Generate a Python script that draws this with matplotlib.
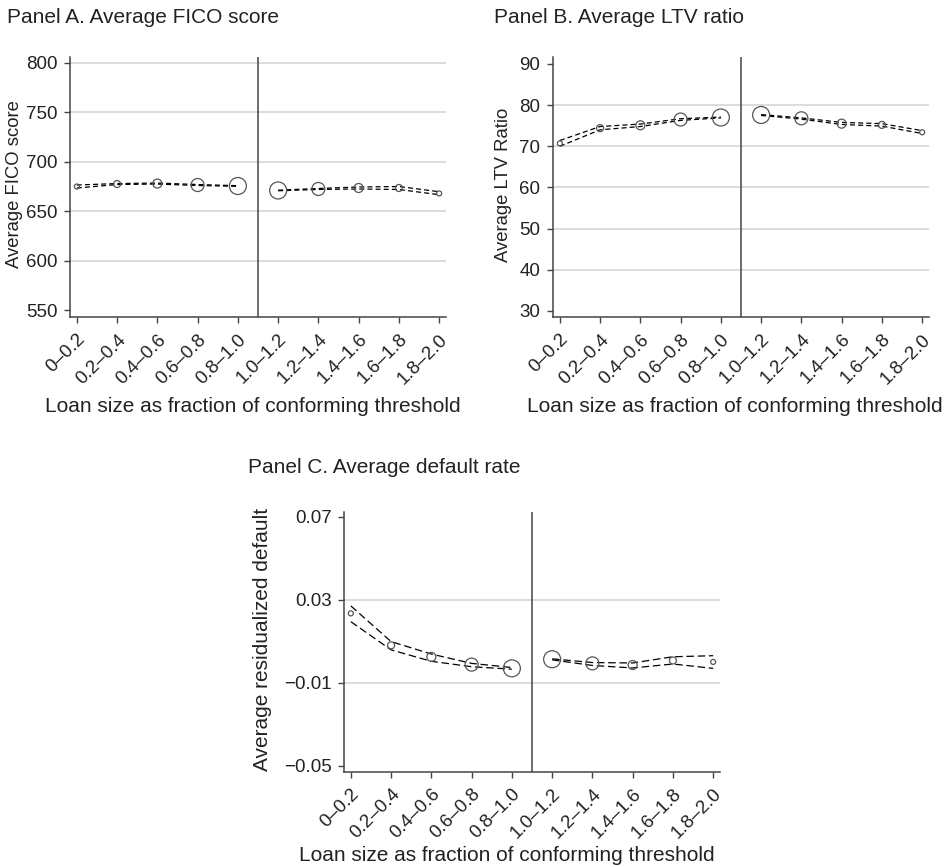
import matplotlib.pyplot as plt
import numpy as np
from matplotlib.transforms import ScaledTranslation

plt.rcParams['font.family'] = ['Liberation Sans', 'DejaVu Sans']

bins = ['0–0.2', '0.2–0.4', '0.4–0.6', '0.6–0.8', '0.8–1.0',
        '1.0–1.2', '1.2–1.4', '1.4–1.6', '1.6–1.8', '1.8–2.0']

# relative bin weight (drawn as circle diameter)
bin_weight = [5, 7, 9, 13, 17, 17, 13, 9, 7, 5]

fico_mean = [675, 677.5, 678, 676.5, 675.5, 671, 672.5, 673.5, 673.5, 668]
fico_hi = [676.5, 678, 678.5, 677, 675.8, 671.3, 673, 674.5, 675, 669.7]
fico_lo = [673.5, 677, 677.5, 676, 675.2, 670.7, 672, 672.5, 672, 666.7]

ltv_mean = [70.7, 74.4, 75.1, 76.5, 77.0, 77.6, 76.8, 75.5, 75.2, 73.4]
ltv_hi = [71.4, 74.8, 75.4, 76.7, 77.1, 77.7, 76.9, 75.8, 75.5, 73.8]
ltv_lo = [70.0, 74.0, 74.8, 76.3, 76.9, 77.5, 76.6, 75.3, 74.9, 73.1]

dflt_mean = [0.0234, 0.0080, 0.0024, -0.0013, -0.0031, 0.0013, -0.0007, -0.0015, 0.0007, 0.0000]
dflt_hi = [0.0270, 0.0098, 0.0038, -0.0007, -0.0027, 0.0015, -0.0003, -0.0005, 0.0025, 0.0030]
dflt_lo = [0.0194, 0.0058, 0.0003, -0.0023, -0.0035, 0.0010, -0.0017, -0.0029, -0.0010, -0.0031]

fico_ticks = [550, 600, 650, 700, 750, 800]
ltv_ticks = [30, 40, 50, 60, 70, 80, 90]
dflt_ticks = [-0.05, -0.01, 0.03, 0.07]

W, H = 952, 867
fig = plt.figure(figsize=(W / 100, H / 100), dpi=100)

txt = '#222222'
axc = '#444444'


def box(l, t, r, b):
    return [l / W, 1 - b / H, (r - l) / W, (b - t) / H]


def panel(rect, mean, hi, lo, ticks, grid, ylim, ylab, ylab_x, ylab_size, tick_fmt, dash):
    ax = fig.add_axes(rect)
    x = np.arange(len(bins))
    for y in grid:
        ax.axhline(y, color='#d2d2d2', lw=1.1, zorder=0)
    # two segments, either side of the conforming threshold
    for seg in [slice(0, 5), slice(5, 10)]:
        ax.plot(x[seg], np.array(hi)[seg], ls='--', dashes=dash, color='black', lw=0.9, zorder=2)
        ax.plot(x[seg], np.array(lo)[seg], ls='--', dashes=dash, color='black', lw=0.9, zorder=2)
    s = (np.array(bin_weight) * 0.72) ** 2
    ax.scatter(x, mean, s=s, facecolors='none', edgecolors='#555555', linewidths=0.9, zorder=3)
    ax.axvline(4.5, color=axc, lw=1.1, zorder=1)

    ax.set_xlim(-0.17, 9.17)
    ax.set_ylim(*ylim)
    ax.set_yticks(ticks)
    ax.set_yticklabels([tick_fmt(t) for t in ticks])
    ax.set_xticks(x)

    for sp in ['top', 'right']:
        ax.spines[sp].set_visible(False)
    for sp in ['left', 'bottom']:
        ax.spines[sp].set_color(axc)
        ax.spines[sp].set_linewidth(1.1)
    ax.tick_params(axis='y', length=4, width=1, color=axc, labelsize=13.5, labelcolor=txt, pad=5)
    ax.tick_params(axis='x', length=4, width=1, color=axc, labelsize=13.5, labelcolor=txt, pad=6)

    ax.set_xticklabels(bins, rotation=45, ha='right', va='center', rotation_mode='anchor')
    shift = ScaledTranslation(6 / 100, -6 / 100, fig.dpi_scale_trans)
    for lab in ax.get_xticklabels():
        lab.set_transform(lab.get_transform() + shift)

    ax.set_ylabel(ylab, fontsize=ylab_size, color=txt)
    ax.yaxis.set_label_coords(ylab_x, 0.51)
    return ax


panel(box(70, 57, 446, 317), fico_mean, fico_hi, fico_lo, fico_ticks,
      [600, 650, 700, 750, 800], (543, 806), 'Average FICO score', -0.125, 13.3,
      lambda t: '%d' % t, (4, 2.5))
panel(box(553, 57, 929, 317), ltv_mean, ltv_hi, ltv_lo, ltv_ticks,
      [40, 50, 60, 70, 80], (28.5, 91.7), 'Average LTV Ratio', -0.109, 13.3,
      lambda t: '%d' % t, (4, 2.5))
panel(box(344, 511.7, 720, 771.7), dflt_mean, dflt_hi, dflt_lo, dflt_ticks,
      [-0.01, 0.03], (-0.0529, 0.0724), 'Average residualized default', -0.191, 15,
      lambda t: ('%.2f' % t).replace('-', '\u2212'), (6, 3))

fig.text(7 / W, 1 - 23.3 / H, 'Panel A. Average FICO score', fontsize=15, color=txt, va='baseline')
fig.text(494 / W, 1 - 23.3 / H, 'Panel B. Average LTV ratio', fontsize=15, color=txt, va='baseline')
fig.text(248 / W, 1 - 473.3 / H, 'Panel C. Average default rate', fontsize=15, color=txt, va='baseline')

xl = 'Loan size as fraction of conforming threshold'
fig.text(252.5 / W, 1 - 412 / H, xl, fontsize=15, color=txt, ha='center', va='baseline')
fig.text(735 / W, 1 - 412 / H, xl, fontsize=15, color=txt, ha='center', va='baseline')
fig.text(506.5 / W, 1 - 860.7 / H, xl, fontsize=15, color=txt, ha='center', va='baseline')

fig.savefig('out.png', dpi=100)
